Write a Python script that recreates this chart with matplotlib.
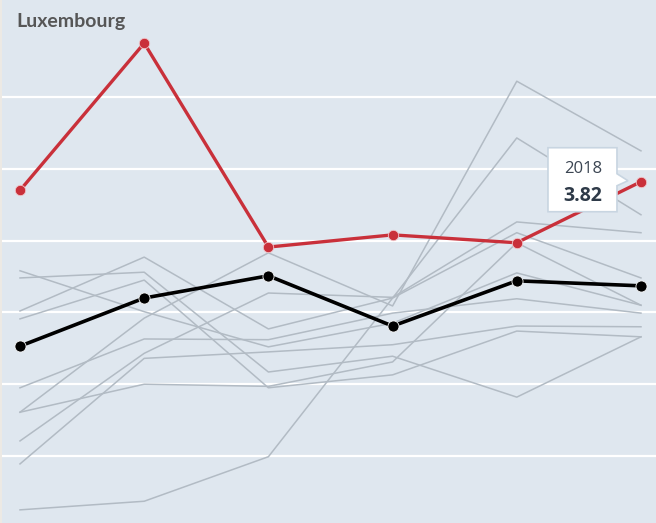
import numpy as np
import matplotlib.pyplot as plt
import matplotlib.transforms as mtransforms
from matplotlib.patches import Polygon

# data
years = [2013, 2014, 2015, 2016, 2017, 2018]
luxembourg = [3.70, 5.75, 2.91, 3.08, 2.97, 3.82]
average = [1.53, 2.20, 2.51, 1.81, 2.44, 2.37]
others = [
    [2.58, 2.01, 1.52, 1.85, 2.55, 2.10],
    [2.48, 2.56, 1.17, 1.39, 0.82, 1.66],
    [2.02, 2.77, 1.77, 2.20, 3.11, 2.48],
    [1.91, 2.45, 0.95, 1.13, 1.74, 1.66],
    [0.95, 1.63, 1.62, 1.99, 2.19, 1.99],
    [0.61, 1.00, 0.97, 1.31, 2.97, 2.10],
    [0.61, 1.92, 2.83, 2.09, 5.22, 4.25],
    [0.21, 1.43, 2.27, 2.21, 3.26, 3.11],
    [-0.11, 1.36, 1.45, 1.55, 1.81, 1.80],
    [-0.75, -0.63, -0.01, 2.20, 4.43, 3.36],
]
gridlines = [0, 1, 2, 3, 4, 5]

bg = '#dfe7ef'
red = '#c9303a'
grey = '#b2bbc4'

fig = plt.figure(figsize=(6.56, 5.23), dpi=100)
fig.patch.set_facecolor('#ece9e4')
ax = fig.add_axes([2 / 656, 0, 654 / 656, 1])
ax.set_facecolor(bg)

x = np.arange(len(years))

for y in gridlines:
    ax.axhline(y, color='white', lw=1.6, zorder=1)

for series in others:
    ax.plot(x, series, color=grey, lw=1.1, zorder=2)

ax.plot(x, average, color='black', lw=2.6, marker='o', ms=8,
        mec='#f4f4f4', mew=0.6, zorder=4)
ax.plot(x, luxembourg, color=red, lw=2.4, marker='o', ms=7.5,
        mec='#f0c8cc', mew=0.6, zorder=5)

ax.set_xlim(-0.145, 5.121)
ax.set_ylim(-0.933, 6.351)
ax.set_xticks([])
ax.set_yticks([])
for s in ax.spines.values():
    s.set_visible(False)

# title
ax.text(14 / 654, 1 - 22 / 523, 'Luxembourg', transform=ax.transAxes,
        fontfamily='Lato', fontweight='bold', fontsize=14, color='#565656',
        ha='left', va='center')

# tooltip on the last point
px, py = x[-1], luxembourg[-1]
trans = mtransforms.Affine2D() + mtransforms.ScaledTranslation(px, py, ax.transData)
box = [(-93, 34), (-24, 34), (-24, 8), (-13, 1), (-24, -4), (-24, -30), (-93, -30)]
ax.add_patch(Polygon(box, closed=True, facecolor='white', edgecolor='#c8d5e1',
                     lw=1.2, transform=trans, zorder=6, clip_on=False))
ax.annotate(str(years[-1]), xy=(px, py), xytext=(-58, 13), textcoords='offset pixels',
            ha='center', va='center', fontsize=12, color='#3b4552',
            fontfamily='Open Sans', zorder=7)
ax.annotate(f'{py:.2f}', xy=(px, py), xytext=(-58, -14), textcoords='offset pixels',
            ha='center', va='center', fontsize=14, fontweight='bold', color='#2e3a48',
            fontfamily='Open Sans', zorder=7)

fig.savefig('out.png', dpi=100, facecolor=fig.get_facecolor())
